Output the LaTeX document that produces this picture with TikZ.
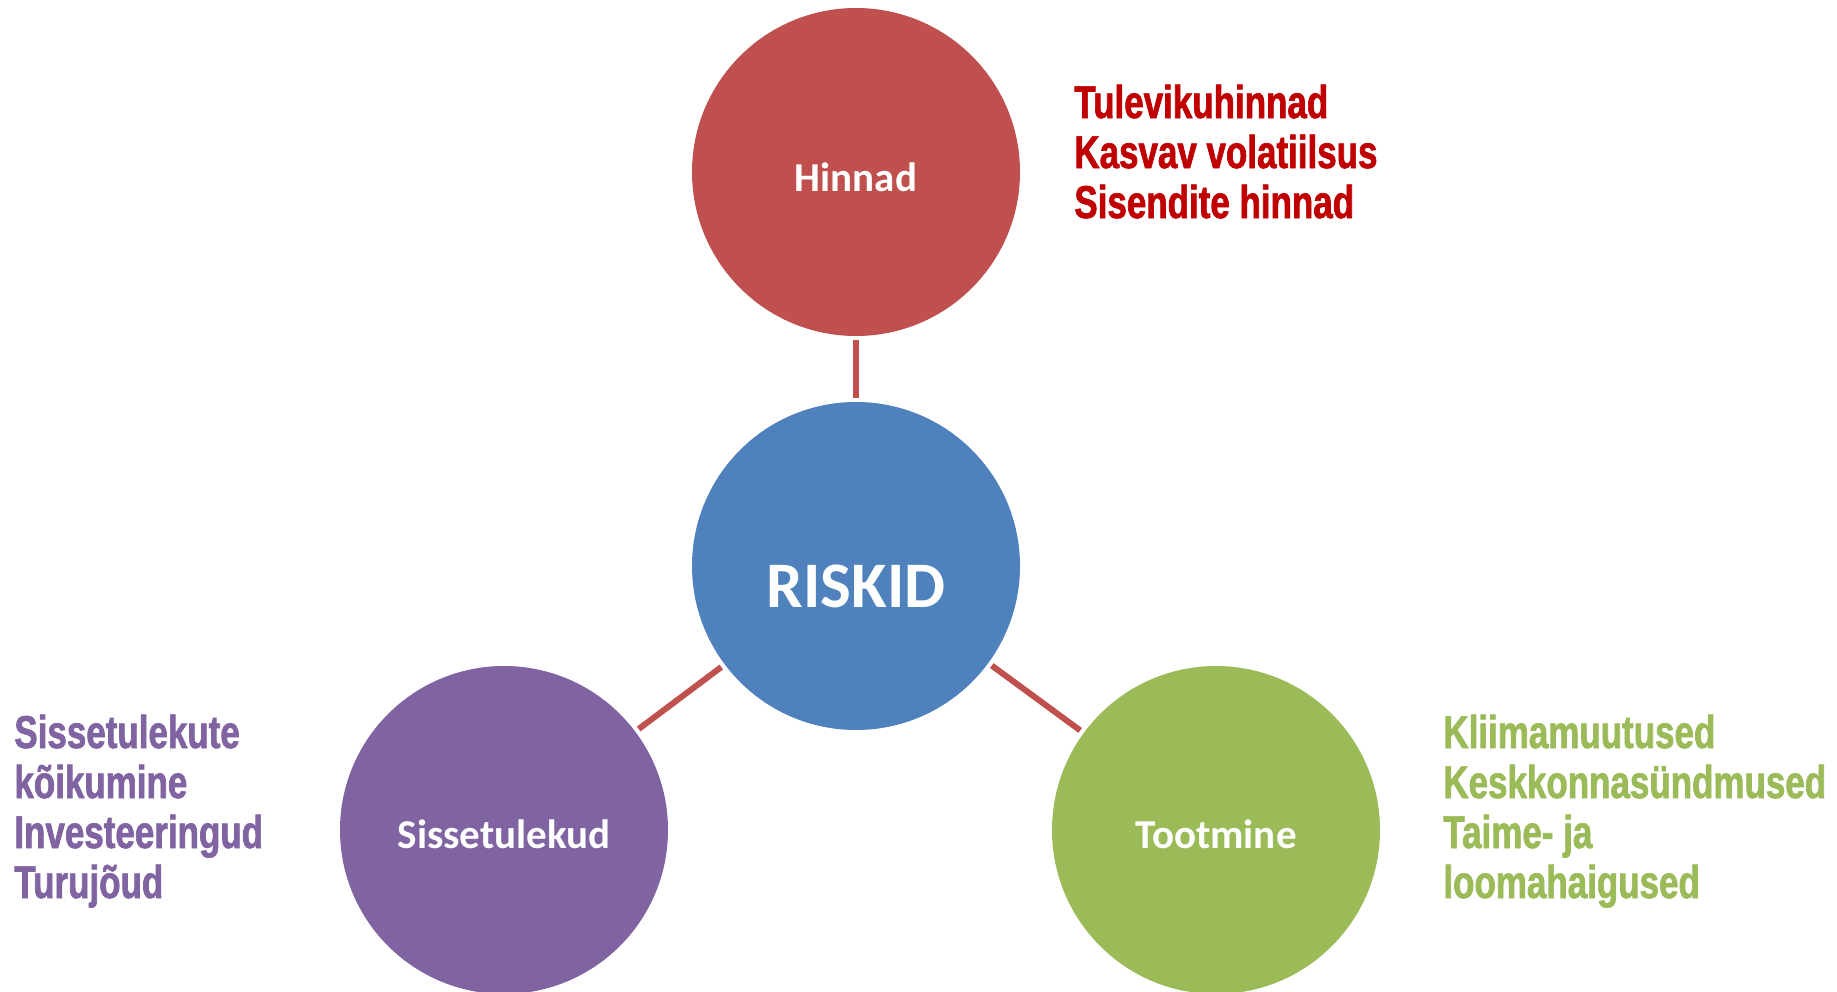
\documentclass[tikz,border=0pt]{standalone}
\usepackage{fontspec}
\setmainfont{Carlito}
\newfontfamily\sidefont[FakeStretch=0.76, FakeBold=1.5]{Liberation Sans}
\definecolor{cred}{HTML}{C0504D}
\definecolor{cblue}{HTML}{4F81BD}
\definecolor{cpurple}{HTML}{8064A2}
\definecolor{cgreen}{HTML}{9BBB59}
\definecolor{tred}{HTML}{C00000}
\tikzset{
  circ/.style={circle, minimum size=164pt, inner sep=0pt, draw=none},
  lbl/.style={text=white, font=\bfseries\fontsize{20.5}{24}\selectfont, inner sep=0pt},
  biglbl/.style={text=white, font=\bfseries\fontsize{32.5}{38}\selectfont, inner sep=0pt},
  side/.style={font=\sidefont\bfseries\fontsize{23}{25}\selectfont, align=left, inner sep=0pt, anchor=base west},
  link/.style={draw=cred, line width=3pt, shorten <=2pt, shorten >=2pt}
}
\begin{document}
\begin{tikzpicture}[x=0.5pt, y=-0.5pt]
\useasboundingbox (0,0) rectangle (1837,991);
\node[circ, fill=cred] (hinnad) at (856,172) {};
\node[circ, fill=cblue] (riskid) at (856,566) {};
\node[circ, fill=cpurple] (sisse) at (504,830) {};
\node[circ, fill=cgreen] (toot) at (1216,830) {};
\draw[link] (hinnad) -- (riskid);
\draw[link] (riskid) -- (sisse);
\draw[link] (riskid) -- (toot);
\node[lbl] (thinnad) at (856,177) {Hinnad};
\node[biglbl] (triskid) at (856,586) {RISKID};
\node[lbl] (tsisse) at (504,834) {Sissetulekud};
\node[lbl] (ttoot) at (1216,834) {Tootmine};
\node[side, text=tred] (redtext) at (1074,218) {Tulevikuhinnad\\Kasvav volatiilsus\\Sisendite hinnad};
\node[side, text=cpurple] (purpletext) at (14,898) {Sissetulekute\\kõikumine\\Investeeringud\\Turujõud};
\node[side, text=cgreen] (greentext) at (1443,898) {Kliimamuutused\\Keskkonnasündmused\\Taime- ja\\loomahaigused};
\end{tikzpicture}
\end{document}
